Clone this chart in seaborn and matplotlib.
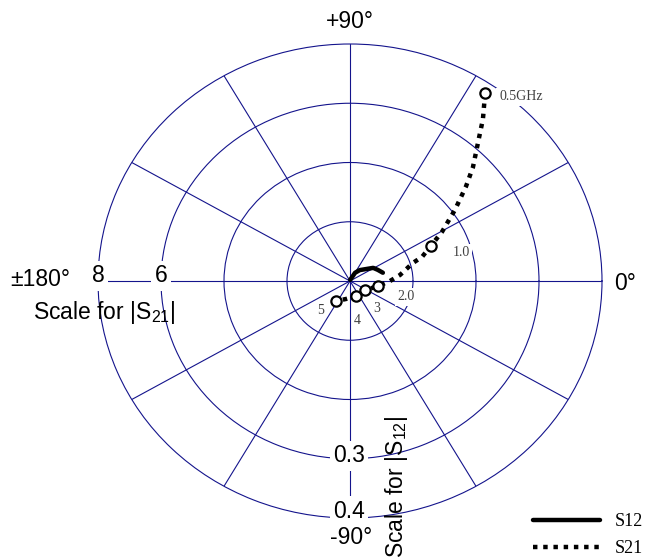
import numpy as np
import matplotlib
matplotlib.use('Agg')
import matplotlib.pyplot as plt
import seaborn as sns
from matplotlib.lines import Line2D

# S21 trace from 0.5 GHz to 5 GHz: magnitude and phase (deg)
s21_mag = [7.65, 6.90, 6.35, 5.47, 4.87, 4.11, 3.36, 2.83, 2.43, 2.09, 1.60, 1.27, 0.91, 0.57, 0.54, 0.62, 0.81]
s21_ang = [55.9, 52.3, 49.8, 44.5, 40.9, 35.8, 29.6, 24.8, 19.6, 17.0, 7.3, 0.0, -10.8, -32.6, -69.5, -101.8, -123.2]
# frequency markers on the S21 trace
mark_labels = ['0.5GHz', '1.0', '2.0', '3', '4', '5']
mark_idx = [0, 7, 12, 13, 14, 16]

# S12 trace: magnitude and phase (deg)
s12_mag = [0.002, 0.016, 0.024, 0.034, 0.043, 0.048, 0.054]
s12_ang = [80, 60, 50, 37, 31, 23, 15]

s21_rings = [2, 4, 6, 8]
s12_rings = [0.1, 0.2, 0.3, 0.4]
s12_to_s21 = 20  # 0.1 of |S12| per ring = 2 of |S21| per ring

sns.set_style('white')
plt.rcParams['font.family'] = ['Liberation Sans', 'DejaVu Sans']
plt.rcParams['mathtext.default'] = 'regular'
plt.rcParams['text.color'] = 'black'

W, H = 655, 560
fig = plt.figure(figsize=(W / 100, H / 100), dpi=100)
ax = fig.add_axes([98 / W, 42 / H, 504 / W, 474 / H], projection='polar')
ax.set_aspect('auto')

navy = '#14148c'
ax.set_rlim(0, 8)
ax.set_rticks(s21_rings[:-1])
ax.set_thetagrids(np.arange(0, 360, 30), labels=[''] * 12)
ax.set_yticklabels([])
ax.grid(True, color=navy, lw=0.8)
ax.spines['polar'].set_color(navy)
ax.spines['polar'].set_linewidth(0.8)

# traces
th21 = np.deg2rad(s21_ang)
sns.lineplot(x=th21, y=s21_mag, ax=ax, sort=False, color='black', lw=3.2,
             linestyle=(0, (1, 1.3)), zorder=4)
th12 = np.deg2rad(s12_ang)
sns.lineplot(x=th12, y=np.array(s12_mag) * s12_to_s21, ax=ax, sort=False,
             color='black', lw=3.2, zorder=4, solid_capstyle='round')
sns.scatterplot(x=th21[mark_idx], y=np.array(s21_mag)[mark_idx], ax=ax,
                color='white', edgecolor='black', linewidth=1.6, s=55, zorder=5)
ax.set_xlabel('')
ax.set_ylabel('')


def px(x, y):
    return x / W, 1 - y / H


white = dict(facecolor='white', edgecolor='none', pad=2.5)
big = 16.5
fig.text(*px(350, 22), '+90°', ha='center', va='center', fontsize=big)
fig.text(*px(40, 279), '±180°', ha='center', va='center', fontsize=big)
fig.text(*px(625, 283), '0°', ha='center', va='center', fontsize=big)
fig.text(*px(351, 537), '-90°', ha='center', va='center', fontsize=big, zorder=5)

# |S21| ring labels along the 180 deg spoke
fig.text(*px(98, 276), str(s21_rings[3]), ha='center', va='center', fontsize=big, bbox=white)
fig.text(*px(161, 276), str(s21_rings[2]), ha='center', va='center', fontsize=big, bbox=white)
fig.text(*px(104, 312), 'Scale for |S$_{21}$|', ha='center', va='center', fontsize=big)

# |S12| ring labels along the -90 deg spoke
fig.text(*px(349, 456), str(s12_rings[2]), ha='center', va='center', fontsize=big, bbox=white)
fig.text(*px(349, 511), str(s12_rings[3]), ha='center', va='center', fontsize=big, bbox=white)
fig.text(*px(396, 487), 'Scale for |S$_{12}$|', ha='center', va='center', fontsize=big, rotation=90)

# frequency labels
serif = ['Liberation Serif', 'DejaVu Serif']
small = dict(ha='center', va='center', fontsize=10, color='#404040', family=serif)
lab_pos = [(521, 97), (461, 253), (406, 297), (377, 308), (357, 320), (321, 310)]
for lab, (x, y) in zip(mark_labels, lab_pos):
    if lab in ('0.5GHz', '1.0', '2.0'):
        fig.text(*px(x, y), lab, bbox=dict(facecolor='white', edgecolor='none', pad=2), **small)
    else:
        fig.text(*px(x, y), lab, **small)

handles = [Line2D([], [], color='black', lw=3.2),
           Line2D([], [], color='black', lw=3.2, linestyle=(0, (1, 1.3)))]
fig.legend(handles, ['S12', 'S21'], loc='center left', bbox_to_anchor=px(533, 535),
           frameon=False, handlelength=3.7, handletextpad=0.85, labelspacing=0.55,
           borderpad=0, borderaxespad=0, prop={'family': serif, 'size': 13})

fig.savefig('out.png', dpi=100)
